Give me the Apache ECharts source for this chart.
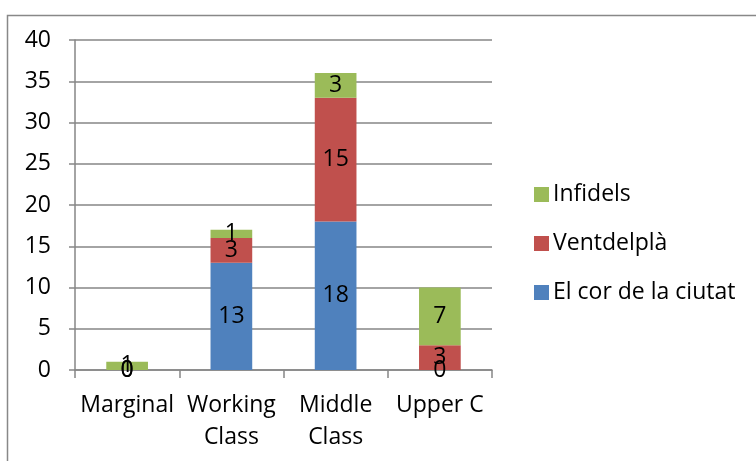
<!DOCTYPE html>
<html><head><meta charset="utf-8">
<script src="https://cdn.jsdelivr.net/npm/echarts@6/dist/echarts.min.js"></script>
<style>html,body{margin:0;padding:0;background:#fff}#c{width:756px;height:461px}</style>
</head><body><div id="c"></div>
<script>
var categories = ['Marginal', 'Working\nClass', 'Middle\nClass', 'Upper C'];
var elCor = [0, 13, 18, 0];
var ventdelpla = [0, 3, 15, 3];
var infidels = [1, 1, 3, 7];
var yTicks = [0, 5, 10, 15, 20, 25, 30, 35, 40];

var FONT = '"Open Sans", sans-serif';
var FS = 23;
var chart = echarts.init(document.getElementById('c'), null, {renderer: 'canvas'});
function s(name, data, color) {
  return {
    name: name, type: 'bar', stack: 'total', data: data, barWidth: '40%',
    itemStyle: {color: color},
    label: {show: true, position: 'inside', color: '#000', fontSize: FS, fontFamily: FONT},
    emphasis: {disabled: true}
  };
}
chart.setOption({
  animation: false,
  graphic: [{type: 'rect', shape: {x: 7.5, y: 15.5, width: 760, height: 460}, style: {fill: 'none', stroke: '#888', lineWidth: 1.5}}],
  grid: {left: 75, right: 264, top: 40, bottom: 91},
  legend: {
    orient: 'vertical', left: 529, top: 178, itemGap: 26, itemWidth: 15, itemHeight: 15,
    icon: 'rect', data: ['Infidels', 'Ventdelplà', 'El cor de la ciutat'],
    textStyle: {fontSize: FS, lineHeight: 22, fontFamily: FONT, color: '#000', padding: [0, 0, 0, -1]}
  },
  xAxis: {
    type: 'category', data: categories,
    axisLine: {lineStyle: {color: '#868686', width: 1.5}},
    axisTick: {show: true, length: 8, alignWithLabel: false, lineStyle: {color: '#868686', width: 1.5}},
    axisLabel: {fontSize: FS, fontFamily: FONT, color: '#000', margin: 19, lineHeight: 32, interval: 0}
  },
  yAxis: {
    type: 'value', min: 0, max: 40, interval: 5,
    axisLine: {show: true, lineStyle: {color: '#868686', width: 1.5}},
    axisTick: {show: true, length: 6, lineStyle: {color: '#868686', width: 1.5}},
    splitLine: {lineStyle: {color: '#868686', width: 1.5}},
    axisLabel: {fontSize: FS, fontFamily: FONT, color: '#000', margin: 24,
      formatter: function (v) { return yTicks.indexOf(v) >= 0 ? String(v) : ''; }}
  },
  series: [
    s('El cor de la ciutat', elCor, '#4F81BD'),
    s('Ventdelplà', ventdelpla, '#C0504D'),
    s('Infidels', infidels, '#9BBB59')
  ]
});
</script></body></html>
